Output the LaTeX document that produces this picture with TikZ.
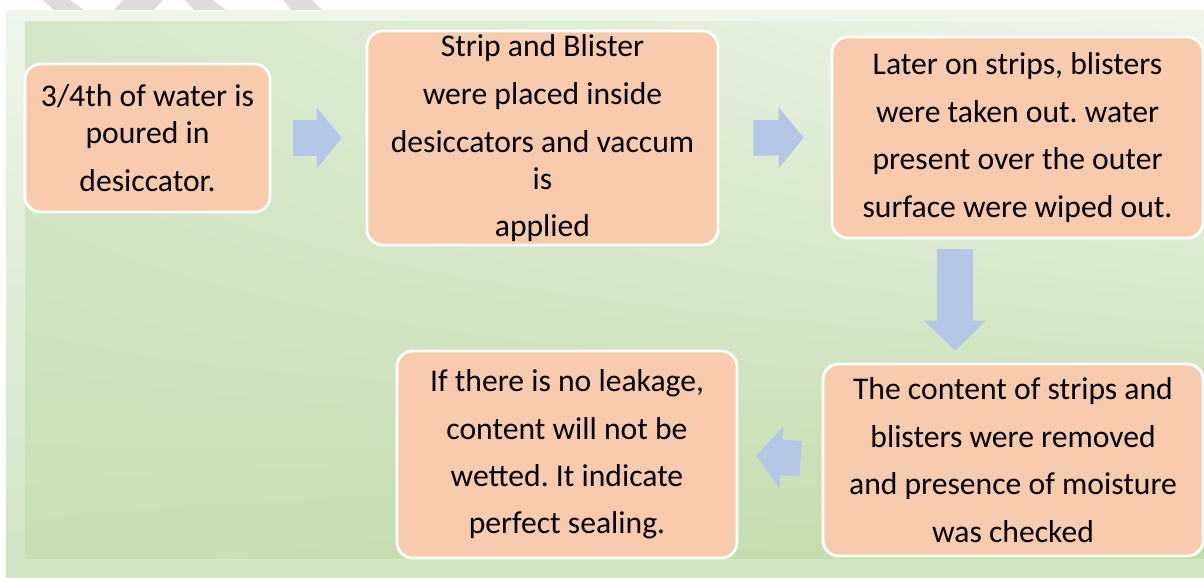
\documentclass[tikz,border=0pt]{standalone}
\usepackage{fontspec}
\setmainfont{Carlito}
\usepackage{xcolor}
\usepackage{tikz}
\usetikzlibrary{arrows.meta, positioning, calc, shadings}
\frenchspacing
\definecolor{stepfill}{HTML}{F8CBAD}
\definecolor{flowblue}{HTML}{B4C7E7}
\definecolor{stripegray}{HTML}{DCDCDC}
\definecolor{frametop}{HTML}{EEF5EB}
\definecolor{framebot}{HTML}{D0E5C2}
\definecolor{panelul}{HTML}{D5E7C8}
\definecolor{panelur}{HTML}{EEF5EB}
\definecolor{panelll}{HTML}{C8E0B6}
\definecolor{panellr}{HTML}{C2DDAC}
\tikzset{
  stepbox/.style={
    draw=white, line width=1.6pt, rounded corners=9pt, fill=stepfill,
    align=center, inner sep=0pt, text=black,
    font=\fontsize{18pt}{21pt}\selectfont
  },
  flowarrow/.style={
    draw=flowblue, line width=0.71cm,
    -{Triangle[length=0.5cm, width=1.2cm]}
  },
  flowarrowlong/.style={
    draw=flowblue, line width=0.72cm,
    -{Triangle[length=0.6cm, width=1.2cm]}
  },
}

\begin{document}
\begin{tikzpicture}
  \useasboundingbox (0,0) rectangle (24.08,-11.56);

  % ── Background stripes and panel ───────────────────────────────
  \fill[stripegray] (0.86,0) -- (1.40,0) -- (1.70,-0.22) -- (1.10,-0.22) -- cycle;
  \fill[stripegray] (2.46,0) -- (3.26,0) -- (3.06,-0.22) -- (2.26,-0.22) -- cycle;
  \fill[stripegray] (3.70,0) -- (4.26,0) -- (4.54,-0.22) -- (3.90,-0.22) -- cycle;
  \fill[stripegray] (5.66,0) -- (6.24,0) -- (6.46,-0.22) -- (5.84,-0.22) -- cycle;

  \shade[top color=frametop, bottom color=framebot]
    (0.12,-0.22) rectangle (24.08,-11.56);
  \shade[upper left=panelul, upper right=panelur,
         lower left=panelll, lower right=panellr]
    (0.5,-0.44) rectangle (24.08,-11.16);

  % ── Top row ────────────────────────────────────────────────────
  \node[stepbox, minimum width=4.9cm, minimum height=2.96cm]
    (pour) at (2.95,-2.76)
    {3/4th of water is\\poured in\\[6pt]desiccator.};
  \node[stepbox, minimum width=7.02cm, minimum height=4.28cm]
    (vacuum) at (10.85,-2.76)
    {Strip and Blister\\[6.5pt]were placed inside\\[6pt]desiccators and vaccum\\is\\[6pt]applied};
  \node[stepbox, minimum width=7.42cm, minimum height=4.02cm]
    (wipe) at (20.35,-2.75)
    {Later on strips, blisters\\[6pt]were taken out. water\\[6pt]present over the outer\\[6pt]surface were wiped out.};

  % ── Bottom row ─────────────────────────────────────────────────
  \node[stepbox, minimum width=7.6cm, minimum height=3.84cm]
    (check) at (20.26,-9.2)
    {The content of strips and\\[6pt]blisters were removed\\[6pt]and presence of moisture\\[6pt]was checked};
  \node[stepbox, minimum width=6.8cm, minimum height=4.14cm]
    (sealing) at (11.34,-9.09)
    {If there is no leakage,\\[6pt]content will not be\\[6pt]wetted. It indicate\\[6pt]perfect sealing.};

  % ── Block arrows ───────────────────────────────────────────────
  \draw[flowarrow, shorten <=0.44cm, shorten >=0.48cm]
    (pour.east) -- (vacuum.west);
  \draw[flowarrow, shorten <=0.68cm, shorten >=0.54cm]
    (vacuum.east) -- (wipe.west);
  \draw[flowarrowlong, shorten <=0.2cm, shorten >=0.24cm]
    ([xshift=-1.25cm]wipe.south) -- ([xshift=-1.25cm]wipe.south |- check.north);
  \draw[flowarrow, shorten <=0.42cm, shorten >=0.36cm]
    (check.west) -- (sealing.east);
\end{tikzpicture}
\end{document}
